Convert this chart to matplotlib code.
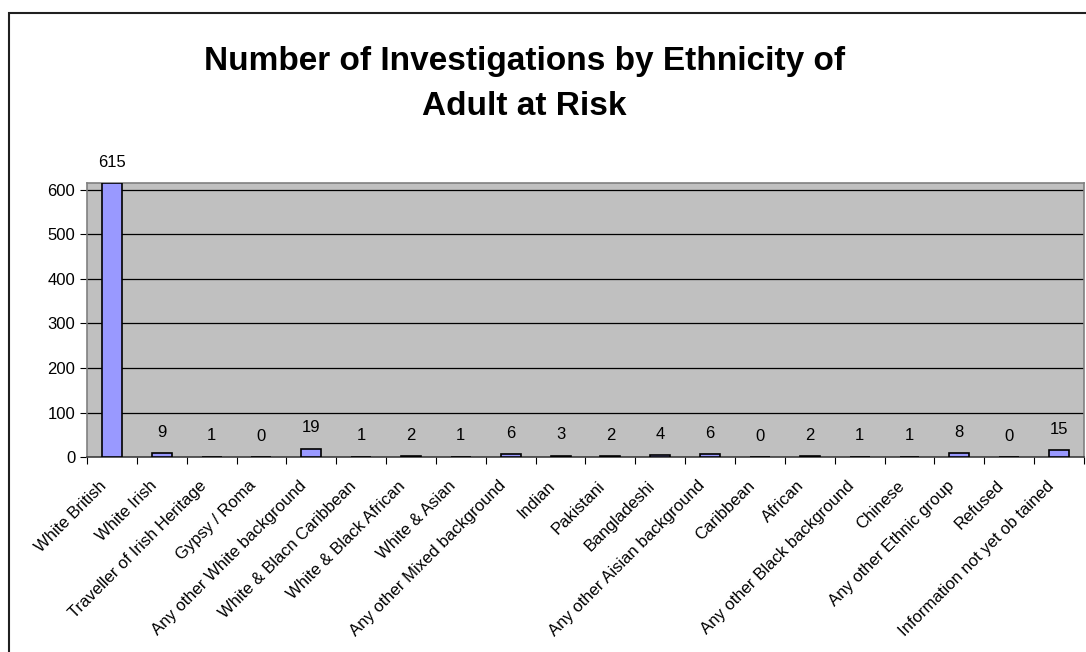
import numpy as np
import matplotlib
matplotlib.use("Agg")
import matplotlib.pyplot as plt
from matplotlib.patches import Rectangle
from matplotlib.transforms import ScaledTranslation, blended_transform_factory

plt.rcParams['font.family'] = ['Liberation Sans', 'DejaVu Sans']

# Chart data
categories = ["White British", "White Irish", "Traveller of Irish Heritage",
              "Gypsy / Roma", "Any other White background",
              "White & Blacn Caribbean", "White & Black African",
              "White & Asian", "Any other Mixed background", "Indian",
              "Pakistani", "Bangladeshi", "Any other Aisian background",
              "Caribbean", "African", "Any other Black background",
              "Chinese", "Any other Ethnic group", "Refused",
              "Information not yet ob tained"]
counts = [615, 9, 1, 0, 19, 1, 2, 1, 6, 3, 2, 4, 6, 0, 2, 1, 1, 8, 0, 15]
yticks = [0, 100, 200, 300, 400, 500, 600]

fig = plt.figure(figsize=(10.86, 6.52), dpi=100)
ax = fig.add_axes([0.0801, 0.299, 0.918, 0.420])

x = np.arange(len(categories))
ax.bar(x, counts, width=0.4, color='#9999FF', edgecolor='black', linewidth=1.2, zorder=3)

# value labels above each bar
for xi, v in zip(x, counts):
    ax.annotate(str(v), (xi, v), xytext=(0, 15), textcoords='offset points',
                ha='center', va='center', fontsize=12)

ax.set_facecolor('#C0C0C0')
ax.set_xlim(-0.5, len(categories) - 0.5)
ax.set_ylim(0, 615)
ax.set_yticks(yticks)
ax.yaxis.grid(True, color='black', linewidth=0.9, zorder=1)
ax.set_axisbelow(True)
for s in ax.spines.values():
    s.set_color('#808080')
    s.set_linewidth(1.2)
ax.spines['bottom'].set_color('#404040')

# ticks between categories
ax.set_xticks(np.arange(len(categories) + 1) - 0.5)
ax.set_xticklabels([])
ax.tick_params(axis='x', length=5, direction='out')
ax.tick_params(axis='y', length=5, direction='out', labelsize=12)

# category labels, rotated, ending just left of the category centre
trans = blended_transform_factory(ax.transData, ax.transAxes) + \
    ScaledTranslation(-13 / 100, -21 / 100, fig.dpi_scale_trans)
for xi, cat in zip(x, categories):
    ax.text(xi, 0, cat, transform=trans, rotation=45, ha='right', va='top',
            rotation_mode='anchor', fontsize=12, clip_on=False)

fig.text(0.483, 0.871, "Number of Investigations by Ethnicity of\nAdult at Risk",
         ha='center', va='center', fontsize=24, fontweight='bold', linespacing=1.56)

# chart area border
top = 1 - 13 / 652
fig.patches.append(Rectangle((8.5 / 1086, -0.1), 1.2, top + 0.1,
                             transform=fig.transFigure, fill=False,
                             edgecolor='#202020', linewidth=1.5))

fig.savefig('out.png', dpi=100)
